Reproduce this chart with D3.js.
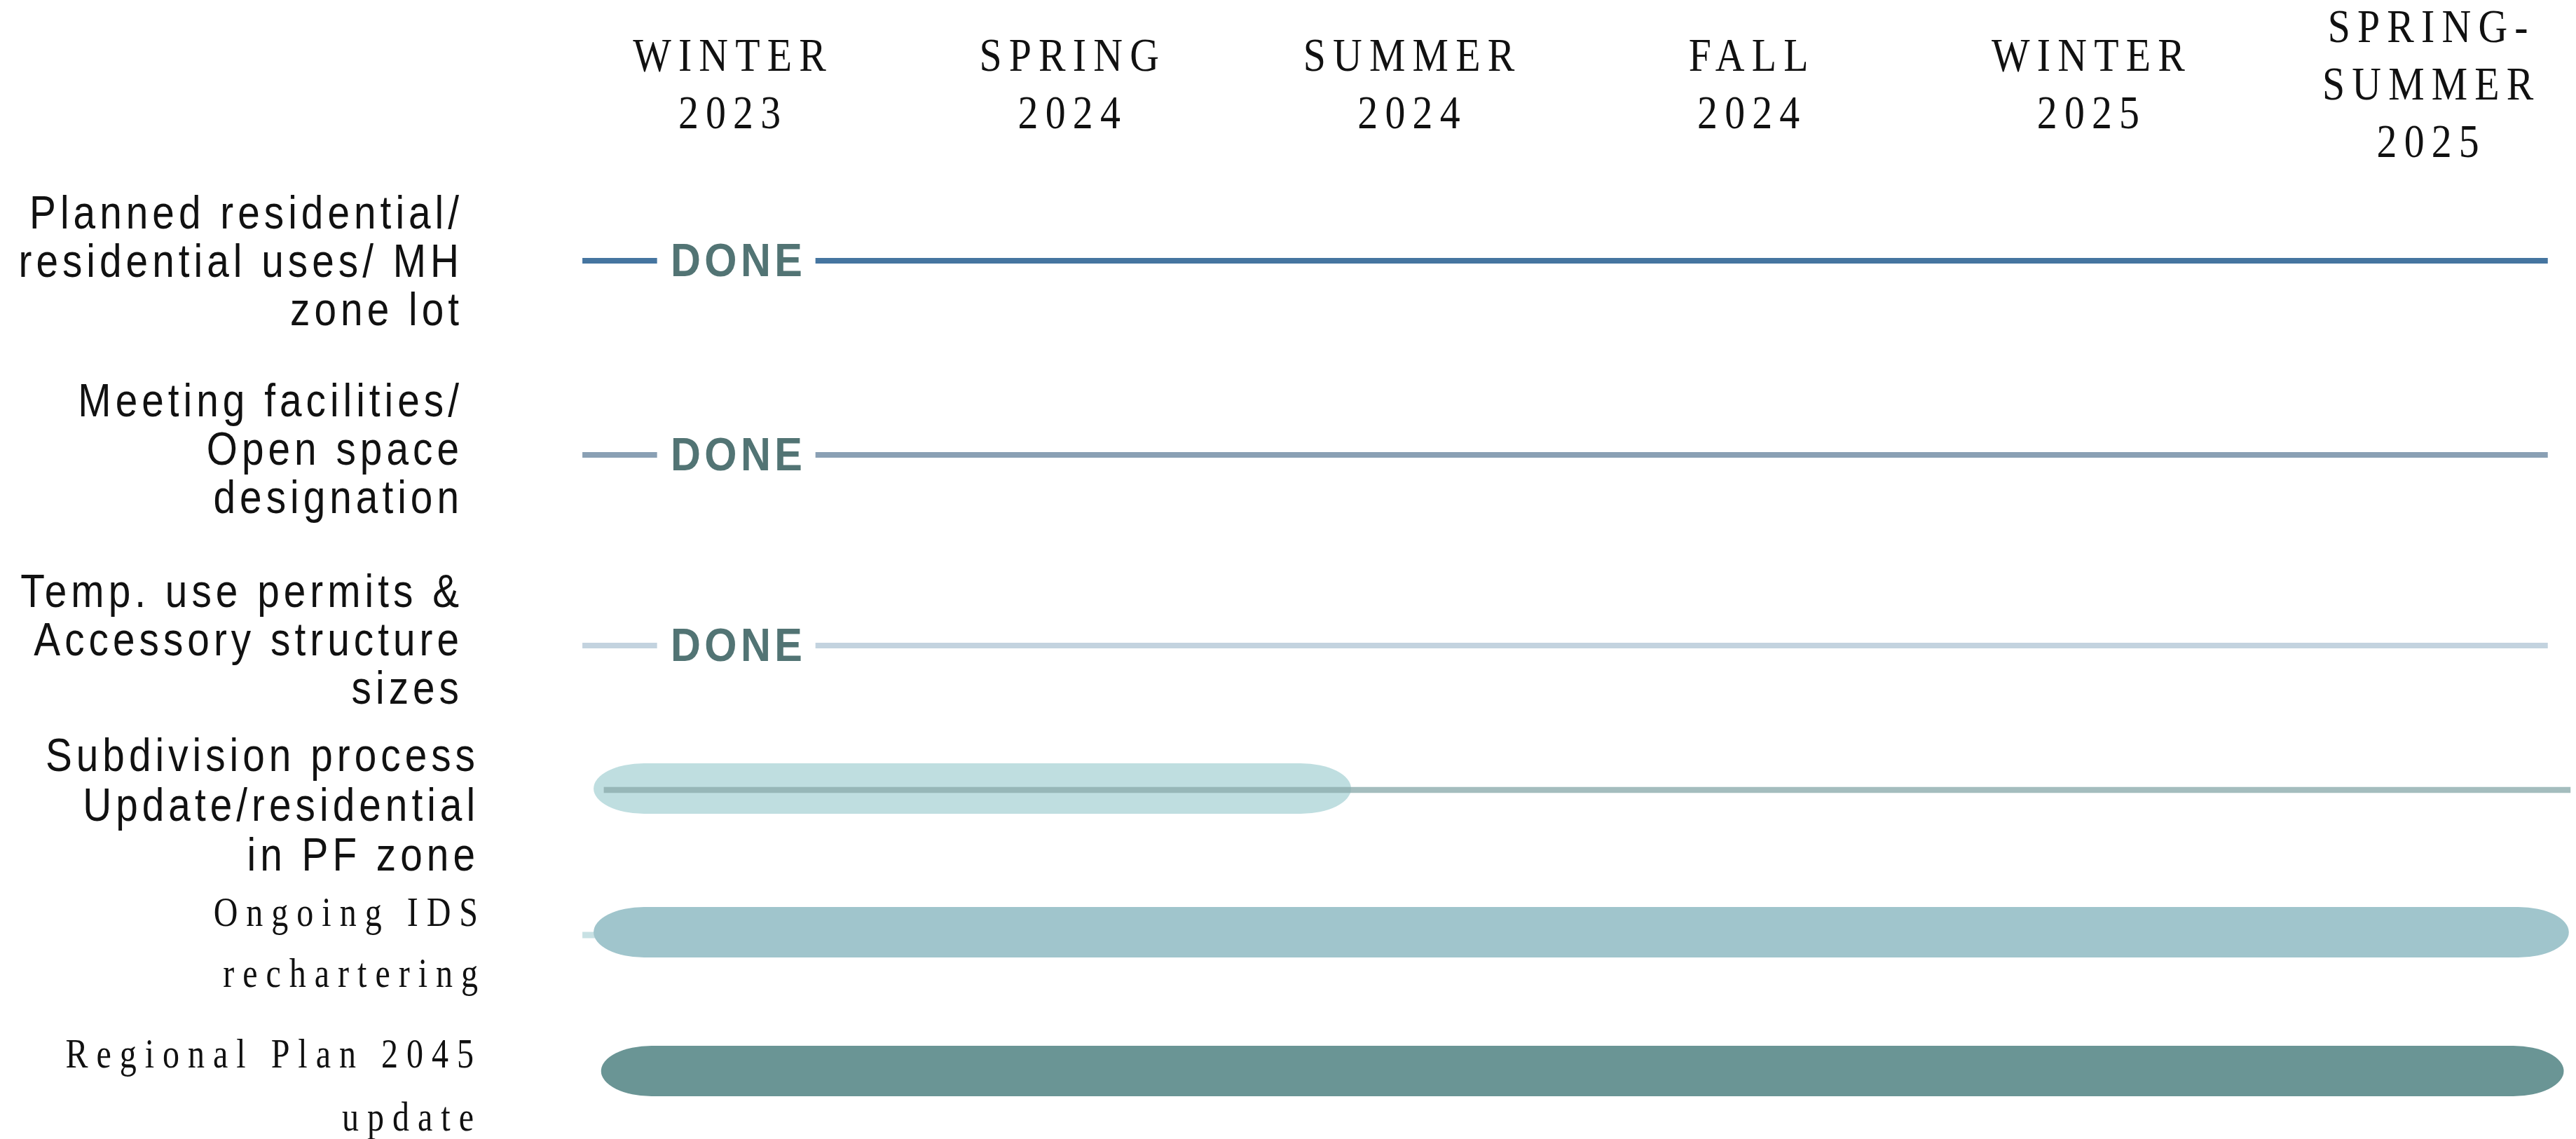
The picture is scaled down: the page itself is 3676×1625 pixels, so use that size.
<!DOCTYPE html>
<html>
<head>
<meta charset="utf-8">
<script src="https://cdn.jsdelivr.net/npm/d3@7"></script>
<style>
  body { margin: 0; background: #fff; }
  svg { display: block; }
</style>
</head>
<body>
<div id="chart"></div>
<script>
// periods (column headers), one entry per column, split into lines
var periodLines = [
  ["WINTER", "2023"],
  ["SPRING", "2024"],
  ["SUMMER", "2024"],
  ["FALL", "2024"],
  ["WINTER", "2025"],
  ["SPRING-", "SUMMER", "2025"]
];

// tasks (rows)
var taskLabels = [
  ["Planned residential/", "residential uses/ MH", "zone lot"],
  ["Meeting facilities/", "Open space", "designation"],
  ["Temp. use permits &", "Accessory structure", "sizes"],
  ["Subdivision process", "Update/residential", "in PF zone"],
  ["Ongoing IDS", "rechartering"],
  ["Regional Plan 2045", "update"]
];
var taskDone = [true, true, true, false, false, false];
// timings in period units (0 = start of Winter 2023, 6 = end of Spring-Summer 2025)
var doneAt    = [0.52, 0.52, 0.52, null, null, null];
var lineStart = [0.067, 0.067, 0.067, 0.13, 0.067, null];
var lineEnd   = [5.853, 5.853, 5.853, 5.92, 0.5, null];
var barStart  = [null, null, null, 0.10, 0.10, 0.122];
var barEnd    = [null, null, null, 2.33, 5.915, 5.90];

// styling / layout
var lineColor = ["#4575a0", "#8aa0b4", "#c3d3df", "#8dacae", "#c8e1e4", null];
var lineOpacity = [1, 1, 1, 0.8, 1, 1];
var barColor = [null, null, null, "#bfdee0", "#a0c5cc", "#6a9595"];
var rowY = [372, 649, 921, 1125, 1330, 1528];
var labelY = [326, 594, 866, 1100, 1321, 1523];
var labelPitch = [69, 69, 69, 71, 87, 90];
var labelRight = [655, 655, 655, 678, 682, 676];
var serifLabel = [false, false, false, false, true, true];

var width = 3676,
    height = 1625;

var x = d3.scaleLinear()
    .domain([0, periodLines.length])
    .range([798.6, 3707]);

var svg = d3.select("#chart").append("svg")
    .attr("width", width)
    .attr("height", height);

svg.append("rect")
    .attr("width", width)
    .attr("height", height)
    .attr("fill", "#fff");

// column headers
var hdrScale = 0.85, hdrSpacing = 12;
var header = svg.append("g").attr("class", "headers");
periodLines.forEach(function(lines, i) {
  var n = lines.length;
  lines.forEach(function(t, k) {
    var y = 142 + (k - (n - 1) / 2) * 82;
    header.append("text")
        .attr("transform", "translate(" + (x(i + 0.5) + hdrSpacing * hdrScale / 2) + "," + y + ") scale(" + hdrScale + ",1)")
        .attr("text-anchor", "middle")
        .style("font-family", "'Liberation Serif', 'DejaVu Serif', serif")
        .style("font-size", "68px")
        .style("letter-spacing", hdrSpacing + "px")
        .attr("fill", "#111")
        .text(t);
  });
});

// row labels
var rows = svg.append("g").attr("class", "rows");
taskLabels.forEach(function(lines, i) {
  var serif = serifLabel[i];
  var sx = serif ? 0.8 : 0.86,
      ls = serif ? 15 : 7;
  lines.forEach(function(t, k) {
    rows.append("text")
        .attr("transform", "translate(" + (labelRight[i] + ls * sx) + "," + (labelY[i] + k * labelPitch[i]) + ") scale(" + sx + ",1)")
        .attr("text-anchor", "end")
        .style("font-family", serif ? "'Liberation Serif', serif" : "'Liberation Sans', Arial, sans-serif")
        .style("font-size", serif ? "60px" : "66px")
        .style("letter-spacing", ls + "px")
        .attr("fill", "#111")
        .text(t);
  });
});

// marks
var gap = 113;
taskLabels.forEach(function(d, i) {
  var g = svg.append("g").attr("class", "task");
  var y = rowY[i];

  // thin stub line behind the Ongoing bar
  if (i === 4) {
    g.append("line")
        .attr("x1", x(lineStart[i])).attr("x2", x(lineEnd[i]))
        .attr("y1", y + 4).attr("y2", y + 4)
        .attr("stroke", lineColor[i])
        .attr("stroke-width", 9);
  }

  if (barStart[i] !== null) {
    g.append("rect")
        .attr("x", x(barStart[i]))
        .attr("y", y - 36)
        .attr("width", x(barEnd[i]) - x(barStart[i]))
        .attr("height", 72)
        .attr("rx", 72)
        .attr("ry", 36)
        .attr("fill", barColor[i]);
  }

  if (taskDone[i]) {
    var cx = x(doneAt[i]);
    g.append("line")
        .attr("x1", x(lineStart[i])).attr("x2", cx - gap)
        .attr("y1", y).attr("y2", y)
        .attr("stroke", lineColor[i])
        .attr("stroke-width", 8);
    g.append("line")
        .attr("x1", cx + gap).attr("x2", x(lineEnd[i]))
        .attr("y1", y).attr("y2", y)
        .attr("stroke", lineColor[i])
        .attr("stroke-width", 8);
    g.append("text")
        .attr("transform", "translate(" + (cx + 3) + "," + (y + 22) + ") scale(0.9,1)")
        .attr("text-anchor", "middle")
        .style("font-family", "'Liberation Sans', Arial, sans-serif")
        .style("font-weight", "bold")
        .style("font-size", "66px")
        .style("letter-spacing", "6px")
        .attr("fill", "#527474")
        .text("DONE");
  } else if (i === 3) {
    g.append("line")
        .attr("x1", x(lineStart[i])).attr("x2", x(lineEnd[i]))
        .attr("y1", y + 2).attr("y2", y + 2)
        .attr("stroke", lineColor[i])
        .attr("stroke-opacity", lineOpacity[i])
        .attr("stroke-width", 8.5);
  }
});
</script>
</body>
</html>
